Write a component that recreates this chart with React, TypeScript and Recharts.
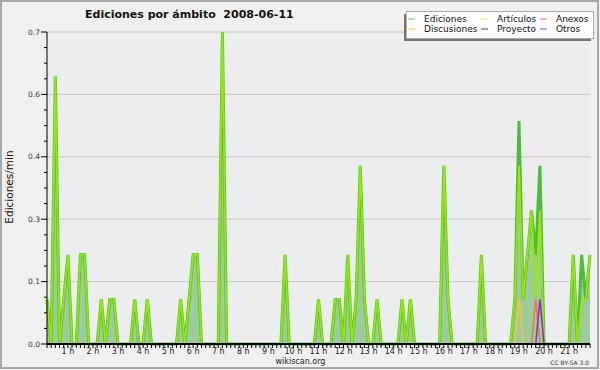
import React from 'react';
import { ComposedChart, Area, Line, XAxis, YAxis, CartesianGrid } from 'recharts';

// 10-minute slots, index 0..130; values in ediciones/min
const slotIndex: number[] = [
  0,1,2,3,4,5,6,7,8,9,10,11,12,13,14,15,16,17,18,19,20,21,22,23,24,25,26,27,28,29,
  30,31,32,33,34,35,36,37,38,39,40,41,42,43,44,45,46,47,48,49,50,51,52,53,54,55,56,57,58,59,
  60,61,62,63,64,65,66,67,68,69,70,71,72,73,74,75,76,77,78,79,80,81,82,83,84,85,86,87,88,89,
  90,91,92,93,94,95,96,97,98,99,100,101,102,103,104,105,106,107,108,109,110,111,112,113,114,115,116,117,118,119,
  120,121,122,123,124,125,126,127,128,129,130,
];

const ediciones: number[] = [
  0.1,0,0.6,0,0.1,0.2,0,0,0.2,0.2,0,0,
  0,0.1,0,0.1,0.1,0,0,0,0,0.1,0,0,
  0.1,0,0,0,0,0,0,0,0.1,0,0.1,0.2,
  0.2,0,0,0,0,0,0.7,0,0,0,0,0,
  0,0,0,0,0,0,0,0,0,0.2,0,0,
  0,0,0,0,0,0.1,0,0,0,0.1,0.1,0,
  0.2,0,0.1,0.4,0.1,0,0,0.1,0,0,0,0,
  0,0.1,0,0.1,0,0,0,0,0,0,0,0.4,
  0.1,0,0,0,0,0,0,0,0.2,0,0,0,
  0,0,0,0,0.1,0.5,0.1,0.2,0.3,0.2,0.4,0,
  0,0,0,0,0,0,0.2,0,0.2,0.1,0.2,
];

const articulos: number[] = [
  0.1,0,0.6,0,0.1,0.2,0,0,0.2,0.2,0,0,
  0,0.1,0,0.1,0.1,0,0,0,0,0.1,0,0,
  0.1,0,0,0,0,0,0,0,0.1,0,0.1,0.2,
  0.2,0,0,0,0,0,0.7,0,0,0,0,0,
  0,0,0,0,0,0,0,0,0,0.2,0,0,
  0,0,0,0,0,0.1,0,0,0,0.1,0.1,0,
  0.2,0,0.1,0.4,0.1,0,0,0.1,0,0,0,0,
  0,0.1,0,0.1,0,0,0,0,0,0,0,0.4,
  0.1,0,0,0,0,0,0,0,0.2,0,0,0,
  0,0,0,0,0.1,0.4,0.1,0.2,0.3,0.1,0.3,0,
  0,0,0,0,0,0,0.2,0,0.1,0.1,0.2,
];

const anexos: number[] = [
  0,0,0,0,0,0,0,0,0,0,0,0, 0,0,0,0,0,0,0,0,0,0,0,0,
  0,0,0,0,0,0,0,0,0,0,0,0, 0,0,0,0,0,0,0,0,0,0,0,0,
  0,0,0,0,0,0,0,0,0,0,0,0, 0,0,0,0,0,0,0,0,0,0,0,0,
  0,0,0,0,0,0,0,0,0,0,0,0, 0,0,0,0,0,0,0,0,0,0,0,0,
  0,0,0,0,0,0,0,0,0,0,0,0, 0,0,0,0,0,0,0,0,0,0.1,0,0,
  0,0,0,0,0,0,0,0,0,0,0,
];

const discusiones: number[] = [
  0,0,0,0,0,0,0,0,0,0,0,0, 0,0,0,0,0,0,0,0,0,0,0,0,
  0,0,0,0,0,0,0,0,0,0,0,0, 0,0,0,0,0,0,0,0,0,0,0,0,
  0,0,0,0,0,0,0,0,0,0,0,0, 0,0,0,0,0,0,0,0,0,0,0,0,
  0,0,0,0,0,0,0,0,0,0,0,0, 0,0,0,0,0,0,0,0,0,0,0,0,
  0,0,0,0,0,0,0,0,0,0,0,0, 0,0,0,0,0,0.1,0,0,0,0,0,0,
  0,0,0,0,0,0,0,0,0,0,0,
];

const proyecto: number[] = [
  0,0,0,0,0,0,0,0,0,0,0,0, 0,0,0,0,0,0,0,0,0,0,0,0,
  0,0,0,0,0,0,0,0,0,0,0,0, 0,0,0,0,0,0,0,0,0,0,0,0,
  0,0,0,0,0,0,0,0,0,0,0,0, 0,0,0,0,0,0,0,0,0,0,0,0,
  0,0,0,0,0,0,0,0,0,0,0,0, 0,0,0,0,0,0,0,0,0,0,0,0,
  0,0,0,0,0,0,0,0,0,0,0,0, 0,0,0,0,0,0,0,0,0,0,0,0,
  0,0,0,0,0,0,0,0,0,0,0,
];

const otros: number[] = [
  0,0,0,0,0,0,0,0,0,0,0,0, 0,0,0,0,0,0,0,0,0,0,0,0,
  0,0,0,0,0,0,0,0,0,0,0,0, 0,0,0,0,0,0,0,0,0,0,0,0,
  0,0,0,0,0,0,0,0,0,0,0,0, 0,0,0,0,0,0,0,0,0,0,0,0,
  0,0,0,0,0,0,0,0,0,0,0,0, 0,0,0,0,0,0,0,0,0,0,0,0,
  0,0,0,0,0,0,0,0,0,0,0,0, 0,0,0,0,0,0,0,0,0,0,0.1,0,
  0,0,0,0,0,0,0,0,0,0,0,
];

// hour labels and the slot index each one sits under
const hourLabels: string[] = ['1 h','2 h','3 h','4 h','5 h','6 h','7 h','8 h','9 h','10 h','11 h','12 h','13 h','14 h','15 h','16 h','17 h','18 h','19 h','20 h','21 h'];
const hourLabelSlots: number[] = [5,11,17,23,29,35,41,47,53,59,65,71,77,83,89,95,101,107,113,119,125];

const yMinorTicks: number[] = [0,0.035,0.07,0.105,0.14,0.175,0.21,0.245,0.28,0.315,0.35,0.385,0.42,0.455,0.49,0.525,0.56,0.595,0.63,0.665,0.7];
const yMajorTicks: number[] = [0,0.14,0.28,0.42,0.56,0.7];
const yTickLabels: string[] = ['0.0','0.1','0.3','0.4','0.6','0.7'];

const legendItems = [
  { name: 'Ediciones', color: '#66c466' },
  { name: 'Artículos', color: '#c4ee55' },
  { name: 'Anexos', color: '#ee7a3a' },
  { name: 'Discusiones', color: '#f2cc3a' },
  { name: 'Proyecto', color: '#505050' },
  { name: 'Otros', color: '#9040f0' },
];

const rows = slotIndex.map((i, k) => ({
  i,
  E: ediciones[k],
  A: articulos[k],
  N: anexos[k],
  D: discusiones[k],
  P: proyecto[k],
  O: otros[k],
}));

const FONT = 'DejaVu Sans';

const XTick = (props: any) => {
  const { x, y, payload } = props;
  const li = hourLabelSlots.indexOf(payload.value);
  return (
    <g>
      <line x1={x} x2={x} y1={y} y2={y + 4} stroke="#000" strokeWidth={1} />
      {li >= 0 && (
        <text x={x} y={y + 10} fontFamily={FONT} fontSize={8} fill="#222" textAnchor="middle">
          {hourLabels[li]}
        </text>
      )}
    </g>
  );
};

const YTick = (props: any) => {
  const { x, y, payload } = props;
  const mi = yMajorTicks.findIndex((v) => Math.abs(v - payload.value) < 1e-6);
  const major = mi >= 0;
  return (
    <g>
      <line x1={x - (major ? 6 : 3)} x2={x} y1={y} y2={y} stroke="#000" strokeWidth={1} />
      {major && (
        <text x={x - 7} y={y + 2.5} fontFamily={FONT} fontSize={7.5} fill="#333" textAnchor="end">
          {yTickLabels[mi]}
        </text>
      )}
    </g>
  );
};

export default function App() {
  const colX = [408, 481, 540];
  const textX = [424, 497, 556];
  const rowY = [19, 29];
  return (
    <div style={{ position: 'fixed', left: 0, top: 0, width: 600, height: 370, background: '#f0f0f0', overflow: 'hidden' }}>
      <ComposedChart width={600} height={370} data={rows} margin={{ top: 32, right: 10, bottom: 0, left: 0 }}>
        <CartesianGrid vertical={false} horizontalValues={[0.14, 0.28, 0.42, 0.56, 0.7]} stroke="#c8c8c8" fill="#ebedef" fillOpacity={1} />
        <Area type="linear" dataKey="E" stroke="#4cbc3c" strokeWidth={3} fill="#9dcb9d" fillOpacity={1} dot={false} activeDot={false} isAnimationActive={false} />
        <Line type="linear" dataKey="A" stroke="#9ae800" strokeWidth={1.8} dot={false} activeDot={false} isAnimationActive={false} />
        <Line type="linear" dataKey="D" stroke="#f2c830" strokeWidth={1.5} dot={false} activeDot={false} isAnimationActive={false} />
        <Line type="linear" dataKey="N" stroke="#f07830" strokeWidth={1.5} dot={false} activeDot={false} isAnimationActive={false} />
        <Line type="linear" dataKey="P" stroke="#555555" strokeWidth={1.5} dot={false} activeDot={false} isAnimationActive={false} />
        <Line type="linear" dataKey="O" stroke="#8a2be2" strokeWidth={1.5} dot={false} activeDot={false} isAnimationActive={false} />
        <XAxis dataKey="i" type="number" domain={[0, 130]} ticks={slotIndex} interval={0} height={26}
          tickSize={0} tickMargin={0} tickLine={false} tick={<XTick />} axisLine={{ stroke: '#000', strokeWidth: 2 }} />
        <YAxis type="number" domain={[0, 0.7]} ticks={yMinorTicks} interval={0} width={47}
          tickSize={0} tickMargin={0} tickLine={false} tick={<YTick />} axisLine={{ stroke: '#000', strokeWidth: 1 }} />
      </ComposedChart>
      <svg width={600} height={370} style={{ position: 'absolute', left: 0, top: 0, pointerEvents: 'none' }}>
        <text x={85} y={17.5} fontFamily={FONT} fontWeight="bold" fontSize={11} fill="#111" style={{ whiteSpace: 'pre' }} xmlSpace="preserve">
          {'Ediciones por ámbito  2008-06-11'}
        </text>
        <text x={0} y={0} transform="translate(12.5,187) rotate(-90)" fontFamily={FONT} fontSize={10.5} fill="#111" textAnchor="middle">
          Ediciones/min
        </text>
        <rect x={404} y={14} width={187} height={27} fill="#777" />
        <rect x={406.5} y={11.5} width={187} height={27} fill="#fdfdfd" stroke="#aaa" strokeWidth={1} />
        {legendItems.map((it, k) => {
          const c = k % 3;
          const r = Math.floor(k / 3);
          return (
            <g key={it.name}>
              <line x1={colX[c]} x2={colX[c] + 7} y1={rowY[r]} y2={rowY[r]} stroke={it.color} strokeWidth={1} />
              <text x={textX[c]} y={rowY[r] + 3.3} fontFamily={FONT} fontSize={9} fill="#111">{it.name}</text>
            </g>
          );
        })}
        <text x={300.5} y={363.5} fontFamily={FONT} fontSize={8} fill="#222" textAnchor="middle">wikiscan.org</text>
        <text x={589} y={364.5} fontFamily={FONT} fontSize={6} fill="#333" textAnchor="end">CC BY-SA 3.0</text>
        <rect x={1} y={1} width={597} height={367} fill="none" stroke="#a8a8a8" strokeWidth={2} />
      </svg>
    </div>
  );
}
